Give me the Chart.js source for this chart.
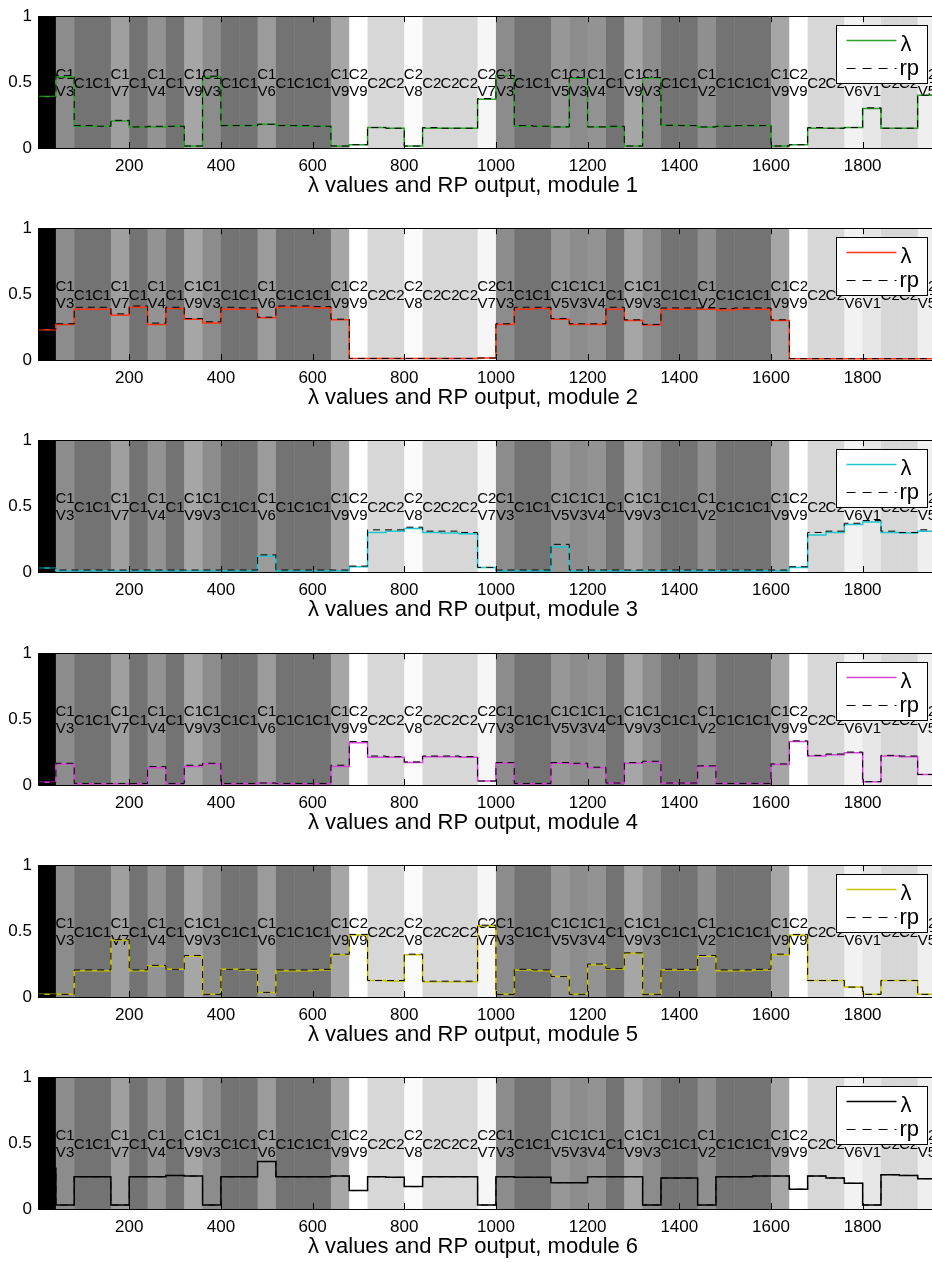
<!DOCTYPE html>
<html>
<head>
<meta charset="utf-8">
<script src="https://cdn.jsdelivr.net/npm/chart.js@4.4.0/dist/chart.umd.min.js"></script>
<style>
  html, body { margin: 0; padding: 0; background: #fff; overflow: hidden; width: 932px; height: 1262px; }
  .panel { position: absolute; left: 0; width: 940px; height: 212px; }
</style>
</head>
<body>
<script>
// ---- data ----
// condition shown during each 40-sample block (block 0 is the lead-in)
const segLabels = [
  "", "C1 V3", "C1", "C1", "C1 V7", "C1", "C1 V4", "C1", "C1 V9", "C1 V3",
  "C1", "C1", "C1 V6", "C1", "C1", "C1", "C1 V9", "C2 V9", "C2", "C2",
  "C2 V8", "C2", "C2", "C2", "C2 V7", "C1 V3", "C1", "C1", "C1 V5", "C1 V3",
  "C1 V4", "C1", "C1 V9", "C1 V3", "C1", "C1", "C1 V2", "C1", "C1", "C1",
  "C1 V9", "C2 V9", "C2", "C2", "C2 V6", "C2 V1", "C2", "C2", "C2 V5"
];
const blockLength = 40;
const sampleCount = 1960;
const xTicks = [200, 400, 600, 800, 1000, 1200, 1400, 1600, 1800];
const yTicks = [0, 0.5, 1];
const moduleNames = ["module 1", "module 2", "module 3", "module 4", "module 5", "module 6"];

// λ level per block, one list per module
const lambda1 = [0.39, 0.54, 0.165, 0.165, 0.205, 0.16, 0.16, 0.165, 0.015, 0.54,
  0.17, 0.17, 0.18, 0.17, 0.165, 0.165, 0.015, 0.025, 0.155, 0.15,
  0.015, 0.15, 0.15, 0.15, 0.37, 0.55, 0.165, 0.165, 0.16, 0.53,
  0.16, 0.16, 0.015, 0.53, 0.172, 0.17, 0.158, 0.165, 0.168, 0.17,
  0.015, 0.025, 0.15, 0.15, 0.155, 0.30, 0.15, 0.15, 0.40];
const rp1 = [0.385, 0.55, 0.17, 0.165, 0.21, 0.16, 0.165, 0.165, 0.015, 0.545,
  0.17, 0.17, 0.18, 0.17, 0.17, 0.165, 0.015, 0.025, 0.155, 0.15,
  0.015, 0.155, 0.15, 0.15, 0.375, 0.55, 0.17, 0.165, 0.16, 0.535,
  0.16, 0.165, 0.015, 0.535, 0.172, 0.17, 0.16, 0.165, 0.17, 0.17,
  0.015, 0.025, 0.155, 0.15, 0.155, 0.305, 0.15, 0.15, 0.40];

const lambda2 = [0.23, 0.27, 0.385, 0.385, 0.34, 0.40, 0.27, 0.39, 0.31, 0.28,
  0.385, 0.385, 0.32, 0.40, 0.40, 0.395, 0.305, 0.012, 0.012, 0.012,
  0.012, 0.012, 0.012, 0.012, 0.015, 0.27, 0.385, 0.39, 0.31, 0.27,
  0.27, 0.385, 0.30, 0.265, 0.385, 0.385, 0.385, 0.38, 0.385, 0.385,
  0.30, 0.01, 0.01, 0.01, 0.01, 0.01, 0.01, 0.01, 0.01];
const rp2 = [0.235, 0.275, 0.40, 0.40, 0.35, 0.41, 0.28, 0.40, 0.315, 0.29,
  0.40, 0.395, 0.325, 0.41, 0.41, 0.405, 0.31, 0.012, 0.012, 0.012,
  0.012, 0.012, 0.012, 0.012, 0.015, 0.275, 0.40, 0.40, 0.315, 0.275,
  0.275, 0.40, 0.305, 0.27, 0.395, 0.395, 0.395, 0.39, 0.395, 0.395,
  0.305, 0.01, 0.01, 0.01, 0.01, 0.01, 0.01, 0.01, 0.01];

const lambda3 = [0.03, 0.01, 0.01, 0.01, 0.01, 0.01, 0.01, 0.01, 0.01, 0.01,
  0.01, 0.01, 0.12, 0.01, 0.01, 0.01, 0.01, 0.04, 0.30, 0.31,
  0.33, 0.30, 0.295, 0.29, 0.035, 0.01, 0.01, 0.01, 0.19, 0.01,
  0.01, 0.01, 0.01, 0.01, 0.01, 0.01, 0.01, 0.01, 0.01, 0.01,
  0.01, 0.035, 0.28, 0.30, 0.36, 0.38, 0.30, 0.295, 0.31];
const rp3 = [0.03, 0.015, 0.015, 0.015, 0.015, 0.015, 0.015, 0.015, 0.015, 0.015,
  0.015, 0.015, 0.13, 0.015, 0.015, 0.015, 0.015, 0.045, 0.32, 0.32,
  0.34, 0.31, 0.31, 0.30, 0.035, 0.015, 0.015, 0.015, 0.21, 0.015,
  0.015, 0.015, 0.015, 0.015, 0.015, 0.015, 0.015, 0.015, 0.015, 0.015,
  0.015, 0.04, 0.30, 0.31, 0.37, 0.39, 0.31, 0.30, 0.32];

const lambda4 = [0.02, 0.16, 0.01, 0.01, 0.01, 0.01, 0.13, 0.01, 0.14, 0.16,
  0.01, 0.01, 0.015, 0.01, 0.01, 0.01, 0.14, 0.32, 0.21, 0.21,
  0.17, 0.215, 0.215, 0.21, 0.03, 0.165, 0.01, 0.01, 0.165, 0.16,
  0.13, 0.015, 0.165, 0.175, 0.015, 0.015, 0.14, 0.012, 0.012, 0.012,
  0.155, 0.33, 0.22, 0.23, 0.245, 0.025, 0.22, 0.215, 0.08];
const rp4 = [0.02, 0.165, 0.012, 0.012, 0.012, 0.012, 0.14, 0.012, 0.15, 0.165,
  0.012, 0.012, 0.015, 0.012, 0.012, 0.012, 0.15, 0.33, 0.22, 0.215,
  0.175, 0.22, 0.22, 0.215, 0.03, 0.17, 0.012, 0.012, 0.17, 0.165,
  0.135, 0.015, 0.17, 0.18, 0.015, 0.015, 0.145, 0.012, 0.012, 0.012,
  0.16, 0.335, 0.225, 0.235, 0.25, 0.025, 0.225, 0.22, 0.08];

const lambda5 = [0.02, 0.02, 0.20, 0.20, 0.43, 0.20, 0.235, 0.21, 0.31, 0.02,
  0.21, 0.205, 0.035, 0.20, 0.20, 0.205, 0.32, 0.47, 0.125, 0.12,
  0.32, 0.115, 0.115, 0.115, 0.54, 0.02, 0.205, 0.20, 0.155, 0.02,
  0.245, 0.21, 0.33, 0.02, 0.205, 0.205, 0.31, 0.20, 0.20, 0.205,
  0.32, 0.47, 0.125, 0.125, 0.075, 0.02, 0.125, 0.125, 0.02];
const rp5 = [0.02, 0.02, 0.205, 0.205, 0.435, 0.205, 0.24, 0.21, 0.315, 0.02,
  0.21, 0.21, 0.035, 0.205, 0.205, 0.21, 0.325, 0.475, 0.125, 0.125,
  0.325, 0.12, 0.12, 0.12, 0.545, 0.02, 0.21, 0.205, 0.155, 0.02,
  0.25, 0.215, 0.335, 0.02, 0.21, 0.21, 0.315, 0.205, 0.205, 0.21,
  0.325, 0.475, 0.125, 0.125, 0.075, 0.02, 0.125, 0.125, 0.02];

const lambda6 = [0.31, 0.03, 0.245, 0.245, 0.03, 0.245, 0.245, 0.255, 0.25, 0.03,
  0.245, 0.245, 0.36, 0.245, 0.245, 0.245, 0.25, 0.14, 0.245, 0.24,
  0.17, 0.245, 0.245, 0.245, 0.03, 0.245, 0.24, 0.24, 0.20, 0.20,
  0.245, 0.245, 0.245, 0.03, 0.235, 0.235, 0.03, 0.245, 0.245, 0.25,
  0.25, 0.15, 0.25, 0.235, 0.195, 0.03, 0.26, 0.255, 0.23];
const rp6 = [0.31, 0.03, 0.245, 0.245, 0.03, 0.245, 0.245, 0.255, 0.25, 0.03,
  0.245, 0.245, 0.36, 0.245, 0.245, 0.245, 0.25, 0.14, 0.245, 0.24,
  0.17, 0.245, 0.245, 0.245, 0.03, 0.245, 0.24, 0.24, 0.20, 0.20,
  0.245, 0.245, 0.245, 0.03, 0.235, 0.235, 0.03, 0.245, 0.245, 0.25,
  0.25, 0.15, 0.25, 0.235, 0.195, 0.03, 0.26, 0.255, 0.23];

const lambdaSeries = [lambda1, lambda2, lambda3, lambda4, lambda5, lambda6];
const rpSeries = [rp1, rp2, rp3, rp4, rp5, rp6];

// ---- styles ----
const lineColors = ["#2ea02e", "#ff3414", "#1fc6cf", "#d646d6", "#c9c400", "#000000"];
const shade = {
  "": "#000000",
  "C1": "#737373",
  "C1 V2": "#8f8f8f",
  "C1 V3": "#8c8c8c",
  "C1 V4": "#939393",
  "C1 V5": "#979797",
  "C1 V6": "#9b9b9b",
  "C1 V7": "#9f9f9f",
  "C1 V9": "#a6a6a6",
  "C2": "#d7d7d7",
  "C2 V1": "#e6e6e6",
  "C2 V5": "#efefef",
  "C2 V6": "#f2f2f2",
  "C2 V7": "#f6f6f6",
  "C2 V8": "#fbfbfb",
  "C2 V9": "#ffffff"
};
const FONT = "'Liberation Sans', Arial, Helvetica, sans-serif";
const panelStep = 212.2;

// one point at the start of each block plus the final sample; drawn stepped
function blockPoints(levels) {
  const pts = levels.map((v, i) => ({ x: i * blockLength, y: v }));
  pts.push({ x: sampleCount, y: levels[levels.length - 1] });
  return pts;
}

// shaded condition blocks and their labels, under the curves
const blocksPlugin = {
  id: 'blocks',
  beforeDatasetsDraw(chart) {
    const { ctx, chartArea: a, scales: { x, y } } = chart;
    ctx.save();
    ctx.beginPath();
    ctx.rect(a.left, a.top, a.right - a.left, a.bottom - a.top);
    ctx.clip();
    segLabels.forEach((lab, i) => {
      const x0 = x.getPixelForValue(i * blockLength);
      const x1 = x.getPixelForValue((i + 1) * blockLength);
      ctx.fillStyle = shade[lab];
      ctx.fillRect(x0, a.top, x1 - x0 + 0.5, a.bottom - a.top);
    });
    ctx.fillStyle = '#000';
    ctx.font = '15px ' + FONT;
    ctx.textAlign = 'center';
    ctx.textBaseline = 'middle';
    const yMid = y.getPixelForValue(0.5) + 1.5;
    segLabels.forEach((lab, i) => {
      if (!lab) return;
      const cx = x.getPixelForValue((i + 0.5) * blockLength);
      const parts = lab.split(' ');
      if (parts.length === 1) {
        ctx.fillText(parts[0], cx, yMid);
      } else {
        ctx.fillText(parts[0], cx, yMid - 8.5);
        ctx.fillText(parts[1], cx, yMid + 8.5);
      }
    });
    ctx.restore();
  },
  afterDatasetsDraw(chart) {
    const { ctx, chartArea: a, scales: { x, y } } = chart;
    ctx.save();
    ctx.strokeStyle = '#000';
    ctx.lineWidth = 1;
    ctx.beginPath();
    xTicks.forEach(v => {
      const px = Math.round(x.getPixelForValue(v)) + 0.5;
      ctx.moveTo(px, a.top); ctx.lineTo(px, a.top + 6);
      ctx.moveTo(px, a.bottom); ctx.lineTo(px, a.bottom - 6);
    });
    yTicks.forEach(v => {
      const py = Math.round(y.getPixelForValue(v)) + 0.5;
      ctx.moveTo(a.left, py); ctx.lineTo(a.left + 6, py);
      ctx.moveTo(a.right, py); ctx.lineTo(a.right - 6, py);
    });
    ctx.stroke();
    ctx.strokeRect(Math.round(a.left) + 0.5, Math.round(a.top) + 0.5,
      Math.round(a.right - a.left), Math.round(a.bottom - a.top));
    ctx.restore();
  },
  afterDraw(chart) {
    const { ctx, chartArea: a } = chart;
    const idx = chart.options.plugins.blocks.index;
    // legend box, inset in the upper right corner
    const w = 91, h = 58;
    const lx = Math.round(a.right - 9 - w) + 0.5, ly = Math.round(a.top + 9) + 0.5;
    ctx.save();
    ctx.fillStyle = '#fff';
    ctx.fillRect(lx, ly, w, h);
    ctx.strokeStyle = '#000';
    ctx.lineWidth = 1;
    ctx.strokeRect(lx, ly, w, h);
    ctx.beginPath();
    ctx.strokeStyle = lineColors[idx];
    ctx.lineWidth = 1.5;
    ctx.moveTo(lx + 10, ly + 15); ctx.lineTo(lx + 60, ly + 15);
    ctx.stroke();
    ctx.beginPath();
    ctx.strokeStyle = '#000';
    ctx.lineWidth = 1.2;
    ctx.setLineDash([9, 7]);
    ctx.moveTo(lx + 10, ly + 43); ctx.lineTo(lx + 60, ly + 43);
    ctx.stroke();
    ctx.setLineDash([]);
    ctx.fillStyle = '#000';
    ctx.font = '22px ' + FONT;
    ctx.textAlign = 'left';
    ctx.textBaseline = 'alphabetic';
    ctx.fillText('λ', lx + 64, ly + 25);
    ctx.fillText('rp', lx + 63, ly + 49);
    // axis caption
    ctx.textAlign = 'center';
    ctx.textBaseline = 'middle';
    ctx.fillText('λ values and RP output, ' + moduleNames[idx], 473, a.bottom + 38);
    ctx.restore();
  }
};

lambdaSeries.forEach((lam, k) => {
  const holder = document.createElement('div');
  holder.className = 'panel';
  holder.style.top = (k * panelStep).toFixed(1) + 'px';
  const canvas = document.createElement('canvas');
  canvas.width = 940; canvas.height = 212;
  holder.appendChild(canvas);
  document.body.appendChild(holder);

  new Chart(canvas, {
    type: 'line',
    data: {
      datasets: [
        { label: 'λ', data: blockPoints(lam), stepped: true, borderColor: lineColors[k],
          borderWidth: 1.5, pointRadius: 0, order: 2 },
        { label: 'rp', data: blockPoints(rpSeries[k]), stepped: true, borderColor: '#000',
          borderWidth: 1, borderDash: [7, 5], pointRadius: 0, order: 1 }
      ]
    },
    options: {
      responsive: false,
      devicePixelRatio: 1,
      animation: false,
      events: [],
      layout: { padding: { top: 10, right: 4, left: 0, bottom: 0 } },
      plugins: { legend: { display: false }, tooltip: { enabled: false }, blocks: { index: k } },
      scales: {
        x: {
          type: 'linear', min: 1, max: sampleCount,
          grid: { display: false, drawTicks: false }, border: { display: false },
          afterBuildTicks: s => { s.ticks = xTicks.map(v => ({ value: v })); },
          afterFit: s => { s.height = 64; },
          ticks: { color: '#000', font: { family: FONT, size: 17 }, padding: 8, maxRotation: 0,
            autoSkip: false, callback: v => String(v) }
        },
        y: {
          min: 0, max: 1,
          grid: { display: false, drawTicks: false }, border: { display: false },
          afterBuildTicks: s => { s.ticks = yTicks.map(v => ({ value: v })); },
          afterFit: s => { s.width = 38; },
          ticks: { color: '#000', font: { family: FONT, size: 17 }, padding: 6,
            callback: v => String(v) }
        }
      }
    },
    plugins: [blocksPlugin]
  });
});
</script>
</body>
</html>
